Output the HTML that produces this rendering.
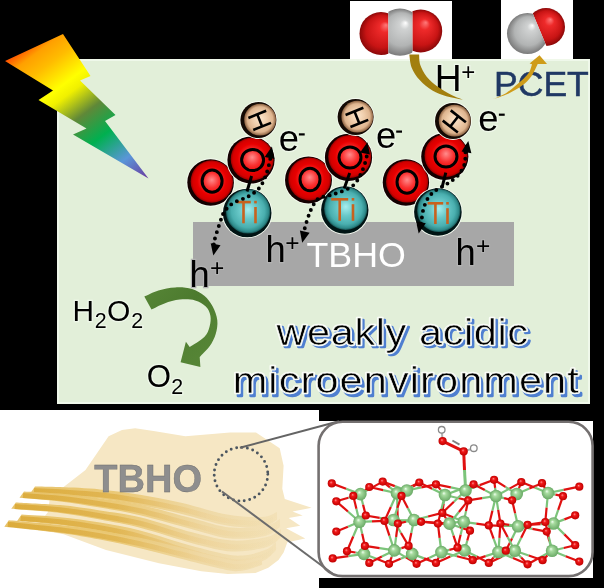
<!DOCTYPE html>
<html><head><meta charset="utf-8">
<style>
html,body{margin:0;padding:0;background:#000;width:604px;height:588px;overflow:hidden;}
svg{display:block;will-change:transform;}
text{font-family:"Liberation Sans",sans-serif;}
</style></head><body>
<svg width="604" height="588" viewBox="0 0 604 588">

<defs>
  <linearGradient id="bolt" gradientUnits="userSpaceOnUse" x1="5" y1="61" x2="112.6" y2="204.5">
    <stop offset="0" stop-color="#ff5000"/>
    <stop offset="0.07" stop-color="#ffa000"/>
    <stop offset="0.16" stop-color="#ffbc00"/>
    <stop offset="0.30" stop-color="#ffff00"/>
    <stop offset="0.36" stop-color="#f0f000"/>
    <stop offset="0.50" stop-color="#608838"/>
    <stop offset="0.66" stop-color="#00b050"/>
    <stop offset="0.84" stop-color="#5a96d8"/>
    <stop offset="1" stop-color="#6a3aa0"/>
  </linearGradient>
  <radialGradient id="gO" cx="0.5" cy="0.5" r="0.5" fx="0.5" fy="0.46">
    <stop offset="0" stop-color="#ff8c8c"/>
    <stop offset="0.35" stop-color="#fa3232"/>
    <stop offset="0.68" stop-color="#e80000"/>
    <stop offset="0.9" stop-color="#d40000"/>
    <stop offset="1" stop-color="#960000"/>
  </radialGradient>
  <radialGradient id="gTi" cx="0.5" cy="0.5" r="0.5" fx="0.5" fy="0.46">
    <stop offset="0" stop-color="#a8eeee"/>
    <stop offset="0.4" stop-color="#68c8c8"/>
    <stop offset="0.75" stop-color="#4aafaf"/>
    <stop offset="0.92" stop-color="#2e8a8a"/>
    <stop offset="1" stop-color="#164e4e"/>
  </radialGradient>
  <radialGradient id="gH" cx="0.5" cy="0.5" r="0.5" fx="0.5" fy="0.46">
    <stop offset="0" stop-color="#fde6cc"/>
    <stop offset="0.45" stop-color="#efcdab"/>
    <stop offset="0.8" stop-color="#deb48e"/>
    <stop offset="1" stop-color="#8a6040"/>
  </radialGradient>
  <radialGradient id="mRed" cx="0.5" cy="0.5" r="0.5" fx="0.62" fy="0.3">
    <stop offset="0" stop-color="#ff7a7a"/>
    <stop offset="0.25" stop-color="#ee2a2a"/>
    <stop offset="0.75" stop-color="#c81414"/>
    <stop offset="1" stop-color="#8a0808"/>
  </radialGradient>
  <radialGradient id="mGray" cx="0.5" cy="0.5" r="0.5" fx="0.62" fy="0.3">
    <stop offset="0" stop-color="#ffffff"/>
    <stop offset="0.2" stop-color="#d0d2d2"/>
    <stop offset="0.7" stop-color="#b2b4b4"/>
    <stop offset="1" stop-color="#7a7a7a"/>
  </radialGradient>
  <radialGradient id="cR" cx="0.5" cy="0.5" r="0.5" fx="0.4" fy="0.35">
    <stop offset="0" stop-color="#ff9090"/>
    <stop offset="0.35" stop-color="#f01818"/>
    <stop offset="1" stop-color="#c00000"/>
  </radialGradient>
  <radialGradient id="cG" cx="0.5" cy="0.5" r="0.5" fx="0.4" fy="0.35">
    <stop offset="0" stop-color="#f0fff0"/>
    <stop offset="0.3" stop-color="#a8dca0"/>
    <stop offset="1" stop-color="#6aaa66"/>
  </radialGradient>
</defs>


<rect width="604" height="588" fill="#000"/>
<rect x="0" y="410" width="319" height="178" fill="#fff"/>
<rect x="319" y="421" width="274" height="157" fill="#fff"/>
<rect x="350" y="1" width="102" height="58" fill="#fff"/>
<rect x="501" y="0" width="72" height="59" fill="#fff"/>
<rect x="57" y="59" width="533" height="345" fill="#e2efd9"/>
<rect x="58" y="60" width="531" height="343" fill="none" stroke="#f3fbee" stroke-width="1.6"/>
<polygon fill="url(#bolt)" points="5,61 63,34 90.5,76 80,80.5 115.5,115 105,121 148.5,178.5 73,134.5 86.5,128.5 38.5,100 53,90.5"/>
<rect x="193" y="222" width="321" height="64" fill="#a7a7a7"/>

<circle cx="210.6" cy="182.5" r="24.2" fill="#f6fcf2"/><circle cx="210.6" cy="182.5" r="23.3" fill="#140000"/><circle cx="211.8" cy="181.5" r="21.2" fill="url(#gO)"/>
<circle cx="251" cy="160" r="24.5" fill="#f6fcf2"/><circle cx="251" cy="160" r="23.6" fill="#140000"/><circle cx="252.2" cy="159.0" r="21.5" fill="url(#gO)"/>
<circle cx="247.2" cy="213" r="25.2" fill="#f6fcf2"/><circle cx="247.2" cy="213" r="24.3" fill="#001414"/><circle cx="248.1" cy="211.4" r="22.2" fill="url(#gTi)"/>
<circle cx="258.4" cy="120" r="18.9" fill="#f6fcf2"/><circle cx="258.4" cy="120" r="18" fill="#140a04"/><circle cx="260.1" cy="119.7" r="15.9" fill="url(#gH)"/>
<g transform="translate(259.7,120.4) rotate(68)" stroke="#000" stroke-width="2.6" stroke-linecap="butt"><line x1="-6.5" y1="-9.6" x2="-6.5" y2="9.6"/><line x1="6.5" y1="-9.6" x2="6.5" y2="9.6"/><line x1="-6.5" y1="0" x2="6.5" y2="0"/></g>
<ellipse cx="212.1" cy="181.1" rx="10" ry="11.2" fill="none" stroke="#000" stroke-width="3"/>
<ellipse cx="252.6" cy="160" rx="11" ry="10.6" fill="none" stroke="#000" stroke-width="3"/>
<g fill="#c8621e"><rect x="236.2" y="200.8" width="14.600000000000023" height="2.6"/><rect x="242.2" y="200.8" width="2.6" height="22.5"/><rect x="254.2" y="200.8" width="2.6" height="2.6"/><rect x="254.2" y="207.0" width="2.6" height="16.3"/></g>
<line x1="251.6" y1="176" x2="247" y2="191.5" stroke="#000" stroke-width="3"/>
<path d="M271.1,152.6 C271.0,153.7 271.1,155.1 270.3,158.7 C269.5,162.3 268.1,169.4 266.3,174.2 C264.5,179.0 262.6,183.8 259.7,187.5 C256.8,191.2 253.0,193.7 248.6,196.3 C244.2,198.9 237.2,200.4 233.2,203.0 C229.1,205.6 226.5,208.5 224.3,211.8 C222.1,215.1 221.6,218.1 219.9,222.9 C218.2,227.7 215.4,236.6 214.4,240.5 C213.4,244.4 214.0,245.5 214.0,246.5" fill="none" stroke="#000" stroke-width="3.9" stroke-linecap="round" stroke-dasharray="0 6.4"/>
<polygon fill="#000" points="271.9,146.6 274.5,158.9 264.7,156.9"/>
<polygon fill="#000" points="213.3,255.5 210.7,243.2 220.5,245.2"/>
<circle cx="308.5" cy="180" r="24.4" fill="#f6fcf2"/><circle cx="308.5" cy="180" r="23.5" fill="#140000"/><circle cx="309.7" cy="179.0" r="21.4" fill="url(#gO)"/>
<circle cx="348.5" cy="157.4" r="24.5" fill="#f6fcf2"/><circle cx="348.5" cy="157.4" r="23.6" fill="#140000"/><circle cx="349.7" cy="156.4" r="21.5" fill="url(#gO)"/>
<circle cx="344.8" cy="210" r="24.6" fill="#f6fcf2"/><circle cx="344.8" cy="210" r="23.7" fill="#001414"/><circle cx="345.7" cy="208.4" r="21.6" fill="url(#gTi)"/>
<circle cx="355.6" cy="117" r="18.9" fill="#f6fcf2"/><circle cx="355.6" cy="117" r="18" fill="#140a04"/><circle cx="357.3" cy="116.7" r="15.9" fill="url(#gH)"/>
<g transform="translate(356.90000000000003,117.4) rotate(68)" stroke="#000" stroke-width="2.6" stroke-linecap="butt"><line x1="-6.5" y1="-9.6" x2="-6.5" y2="9.6"/><line x1="6.5" y1="-9.6" x2="6.5" y2="9.6"/><line x1="-6.5" y1="0" x2="6.5" y2="0"/></g>
<ellipse cx="310" cy="179.5" rx="10" ry="11.2" fill="none" stroke="#000" stroke-width="3"/>
<ellipse cx="350" cy="157.5" rx="11" ry="10.6" fill="none" stroke="#000" stroke-width="3"/>
<g fill="#c8621e"><rect x="331.2" y="198" width="17.0" height="2.6"/><rect x="338.4" y="198" width="2.6" height="22.80000000000001"/><rect x="351.7" y="198" width="2.6" height="2.6"/><rect x="351.7" y="204.2" width="2.6" height="16.6"/></g>
<line x1="349.7" y1="173.1" x2="344.2" y2="188.6" stroke="#000" stroke-width="3"/>
<path d="M366.9,150.4 C366.8,151.8 367.3,154.7 366.3,158.7 C365.3,162.7 363.1,169.6 360.7,174.2 C358.3,178.8 356.3,183.1 351.9,186.4 C347.5,189.7 339.7,192.1 334.2,194.1 C328.7,196.1 322.4,196.3 318.7,198.5 C315.0,200.7 313.9,204.1 312.1,207.4 C310.3,210.7 309.2,214.0 307.7,218.4 C306.2,222.8 304.1,230.7 303.3,233.9 C302.5,237.1 302.9,236.9 302.9,237.5" fill="none" stroke="#000" stroke-width="3.9" stroke-linecap="round" stroke-dasharray="0 6.4"/>
<polygon fill="#000" points="367.4,142.2 369.9,154.5 360.1,152.4"/>
<polygon fill="#000" points="302.2,242.8 299.9,230.5 309.6,232.7"/>
<circle cx="405.9" cy="182.5" r="24.1" fill="#f6fcf2"/><circle cx="405.9" cy="182.5" r="23.2" fill="#140000"/><circle cx="407.1" cy="181.5" r="21.1" fill="url(#gO)"/>
<circle cx="444.8" cy="156.5" r="24.5" fill="#f6fcf2"/><circle cx="444.8" cy="156.5" r="23.6" fill="#140000"/><circle cx="446.0" cy="155.5" r="21.5" fill="url(#gO)"/>
<circle cx="437.9" cy="212" r="24.7" fill="#f6fcf2"/><circle cx="437.9" cy="212" r="23.8" fill="#001414"/><circle cx="438.8" cy="210.4" r="21.7" fill="url(#gTi)"/>
<circle cx="453" cy="121" r="18.9" fill="#f6fcf2"/><circle cx="453" cy="121" r="18" fill="#140a04"/><circle cx="454.7" cy="120.7" r="15.9" fill="url(#gH)"/>
<g transform="translate(454.3,121.4) rotate(-52)" stroke="#000" stroke-width="2.6" stroke-linecap="butt"><line x1="-6.5" y1="-9.6" x2="-6.5" y2="9.6"/><line x1="6.5" y1="-9.6" x2="6.5" y2="9.6"/><line x1="-6.5" y1="0" x2="6.5" y2="0"/></g>
<ellipse cx="407" cy="182" rx="10" ry="11.2" fill="none" stroke="#000" stroke-width="3"/>
<ellipse cx="446" cy="156.5" rx="11" ry="10.6" fill="none" stroke="#000" stroke-width="3"/>
<g fill="#c8621e"><rect x="427.6" y="202" width="15.599999999999966" height="2.6"/><rect x="434.1" y="202" width="2.6" height="22"/><rect x="446.2" y="202" width="2.6" height="2.6"/><rect x="446.2" y="208.2" width="2.6" height="15.8"/></g>
<line x1="445.8" y1="172.7" x2="442" y2="187.7" stroke="#000" stroke-width="3"/>
<path d="M466.9,146.1 C466.7,146.9 465.9,148.2 465.5,151.2 C465.1,154.2 465.8,160.2 464.5,164.3 C463.2,168.4 460.9,172.2 458.0,175.5 C455.1,178.8 450.6,181.5 446.8,184.0 C443.1,186.5 438.6,188.2 435.5,190.5 C432.4,192.8 430.0,194.9 428.0,198.0 C426.0,201.1 424.5,205.5 423.4,209.2 C422.3,212.9 422.0,217.7 421.5,220.4 C421.0,223.1 420.6,224.8 420.4,225.6" fill="none" stroke="#000" stroke-width="3.9" stroke-linecap="round" stroke-dasharray="0 6.4"/>
<polygon fill="#000" points="468.3,141.0 471.4,153.2 461.5,151.5"/>
<polygon fill="#000" points="418.7,233.5 416.0,221.3 425.8,223.2"/>
<text x="278.66" y="150.73" font-size="36.3" fill="#000" stroke="#eef7e9" stroke-width="2.6" style="paint-order:stroke fill">e</text>
<rect x="298.9" y="133.3" width="5.8" height="2.2" fill="#000"/>
<text x="375.96" y="148.13" font-size="36.3" fill="#000" stroke="#eef7e9" stroke-width="2.6" style="paint-order:stroke fill">e</text>
<rect x="396.2" y="130.5" width="5.8" height="2.2" fill="#000"/>
<text x="478.26" y="131.13" font-size="36.3" fill="#000" stroke="#eef7e9" stroke-width="2.6" style="paint-order:stroke fill">e</text>
<rect x="498.9" y="113.6" width="5.8" height="2.2" fill="#000"/>
<text x="189.48" y="286.60" font-size="36.3" fill="#000" stroke="#b2b2b2" stroke-width="2.4" style="paint-order:stroke fill">h</text>
<text x="209.90" y="275.74" font-size="24.5" fill="#000" stroke="#b2b2b2" stroke-width="2" style="paint-order:stroke fill">+</text>
<text x="265.38" y="261.80" font-size="36.3" fill="#000" stroke="#b2b2b2" stroke-width="2.4" style="paint-order:stroke fill">h</text>
<text x="285.30" y="250.84" font-size="24.5" fill="#000" stroke="#b2b2b2" stroke-width="2" style="paint-order:stroke fill">+</text>
<text x="455.38" y="264.90" font-size="36.3" fill="#000" stroke="#b2b2b2" stroke-width="2.4" style="paint-order:stroke fill">h</text>
<text x="476.10" y="253.64" font-size="24.5" fill="#000" stroke="#b2b2b2" stroke-width="2" style="paint-order:stroke fill">+</text>
<text x="306.50" y="267.00" font-size="35.8" fill="#fff" >TBHO</text>
<text x="434.85" y="90.59" font-size="37.2" fill="#000" stroke="#eef7e9" stroke-width="2.6" style="paint-order:stroke fill">H</text>
<text x="461.13" y="79.75" font-size="24" fill="#000" stroke="#eef7e9" stroke-width="2.6" style="paint-order:stroke fill">+</text>
<path d="M409.3,54.6 C409.7,56.7 409.9,63.2 411.6,67.4 C413.3,71.7 416.2,76.2 419.7,80.1 C423.2,84.0 428.0,87.9 432.4,90.6 C436.8,93.3 441.2,94.8 446.3,96.3 C451.4,97.8 460.4,99.2 463.2,99.8 L463.2,99.8 C461.4,99.0 456.3,97.3 452.1,95.2 C447.9,93.1 442.4,90.2 438.2,87.1 C434.0,84.0 429.7,80.4 426.7,76.7 C423.7,73.0 421.6,68.7 420.3,65.0 C419.0,61.3 419.3,56.3 419.1,54.6 Z" fill="#a27f0e"/>
<text x="493.98" y="96.36" font-size="35.6" fill="#203864" stroke="#203864" stroke-width="0.5">PCET</text>
<path d="M492.0,99.5 C494.7,98.5 503.2,96.0 508.2,93.7 C513.2,91.4 518.2,88.5 522.1,85.6 C526.0,82.7 528.8,79.9 531.4,76.3 C534.0,72.7 536.7,66.1 537.7,64.1 L547,64.1 L539.5,55.2 L529.6,63.5 L532.0,64.3 C531.5,65.7 530.8,69.7 529.0,72.5 C527.2,75.3 524.7,77.7 521.0,81.0 C517.3,84.3 511.8,89.3 507.0,92.4 C502.2,95.5 494.5,98.3 492.0,99.5 Z" fill="#cf9c1a"/>
<linearGradient id="gArrow" gradientUnits="userSpaceOnUse" x1="150" y1="285" x2="215" y2="350"><stop offset="0" stop-color="#568536"/><stop offset="0.45" stop-color="#4c7a2e"/><stop offset="0.75" stop-color="#538234"/><stop offset="1" stop-color="#568536"/></linearGradient>
<path d="M144.3,296.5 C146.7,295.5 153.2,291.9 158.4,290.4 C163.6,288.9 169.6,287.6 175.2,287.4 C180.8,287.1 187.2,287.5 192.0,288.9 C196.8,290.3 200.9,292.9 204.3,295.8 C207.8,298.7 210.5,302.4 212.7,306.5 C214.9,310.6 216.8,315.7 217.3,320.3 C217.8,324.9 217.0,329.7 215.7,334.0 C214.4,338.3 212.3,342.5 209.6,346.3 C206.9,350.1 201.3,355.2 199.7,357.0 L200.4,366.9 L180.6,362.3 L185.9,341.7 L189.7,347.0 C192.1,345.4 201.0,340.5 204.3,337.1 C207.6,333.7 208.6,330.0 209.6,326.4 C210.6,322.8 211.0,319.0 210.4,315.7 C209.8,312.4 208.4,309.1 205.8,306.5 C203.2,303.9 199.4,301.5 195.1,300.4 C190.8,299.2 184.9,299.1 179.8,299.6 C174.7,300.1 169.2,301.8 164.5,303.4 C159.8,305.0 153.7,308.5 151.5,309.5 Z" fill="url(#gArrow)"/>
<text x="72.56" y="320.80" font-size="29.8" fill="#000" stroke="#eef7e9" stroke-width="2.6" style="paint-order:stroke fill">H</text>
<text x="94.72" y="327.84" font-size="21.4" fill="#000" stroke="#eef7e9" stroke-width="2.6" style="paint-order:stroke fill">2</text>
<text x="106.98" y="320.85" font-size="30" fill="#000" stroke="#eef7e9" stroke-width="2.6" style="paint-order:stroke fill">O</text>
<text x="131.22" y="327.84" font-size="21.4" fill="#000" stroke="#eef7e9" stroke-width="2.6" style="paint-order:stroke fill">2</text>
<text x="146.82" y="386.79" font-size="31.2" fill="#000" stroke="#eef7e9" stroke-width="2.6" style="paint-order:stroke fill">O</text>
<text x="171.22" y="393.54" font-size="21.4" fill="#000" stroke="#eef7e9" stroke-width="2.6" style="paint-order:stroke fill">2</text>
<g transform="translate(276.56,344.81) scale(1.12,1)"><text x="2.2" y="2.6" font-size="37" letter-spacing="0.55" fill="#4f7fd0" stroke="#4f7fd0" stroke-width="2.6" stroke-linejoin="round">weakly acidic</text><text x="0" y="0" font-size="37" letter-spacing="0.55" fill="#fff" stroke="#fbfdf9" stroke-width="2.6" stroke-linejoin="round">weakly acidic</text><text x="0" y="0" font-size="37" letter-spacing="0.55" fill="#000" stroke="#f4f8f0" stroke-width="0.6">weakly acidic</text></g>
<g transform="translate(232.75,393.11) scale(1.12,1)"><text x="2.2" y="2.6" font-size="37" letter-spacing="1.0" fill="#4f7fd0" stroke="#4f7fd0" stroke-width="2.6" stroke-linejoin="round">microenvironment</text><text x="0" y="0" font-size="37" letter-spacing="1.0" fill="#fff" stroke="#fbfdf9" stroke-width="2.6" stroke-linejoin="round">microenvironment</text><text x="0" y="0" font-size="37" letter-spacing="1.0" fill="#000" stroke="#f4f8f0" stroke-width="0.6">microenvironment</text></g>
<clipPath id="cpL"><rect x="340" y="0" width="48.4" height="60"/></clipPath>
<clipPath id="cpC"><rect x="388.4" y="0" width="24" height="60"/></clipPath>
<clipPath id="cpR"><rect x="412.4" y="0" width="40" height="60"/></clipPath>
<circle cx="381" cy="33.5" r="21.5" fill="url(#mRed)" clip-path="url(#cpL)"/>
<circle cx="420.7" cy="31" r="21.5" fill="url(#mRed)" clip-path="url(#cpR)"/>
<circle cx="400" cy="32.2" r="23.6" fill="url(#mGray)" clip-path="url(#cpC)"/>
<clipPath id="coO"><polygon points="532.4,12.6 546.3,45.7 580,60 580,0 525,0"/></clipPath>
<clipPath id="coC"><polygon points="532.4,12.6 546.3,45.7 560,60 500,60 500,0 525,0"/></clipPath>
<circle cx="546" cy="27" r="19" fill="url(#mRed)" clip-path="url(#coO)"/>
<circle cx="527.5" cy="33.5" r="20.5" fill="url(#mGray)" clip-path="url(#coC)"/>
<polygon points="31.8,487.9 61,489 85.5,470 108.6,436.2 122,430 135.1,428.2 153.6,430.9 185.4,436.2 230,432.5 256,432.4 279.7,448.3 283.6,465.7 282.3,488.7 284.8,498.9 311.6,507.8 292.5,511.6 302.7,515.5 288.7,518 300.2,525.7 286.1,528.2 305.3,538.4 287.4,542.2 283.6,552.4 278.5,560.1 268.3,567.8 255.5,572.9 227.8,574 201.3,571.3 159,563.3 106,550.1 63.6,534.2 35,529 48,512 50,497 61,489" fill="#f6e7c4"/>
<linearGradient id="band" gradientUnits="userSpaceOnUse" x1="0" y1="0" x2="290" y2="0"><stop offset="0" stop-color="#e6c064"/><stop offset="0.4" stop-color="#e9c772"/><stop offset="0.7" stop-color="#efd8a4"/><stop offset="1" stop-color="#f3e2ba"/></linearGradient>
<linearGradient id="bandD" gradientUnits="userSpaceOnUse" x1="0" y1="0" x2="290" y2="0"><stop offset="0" stop-color="#d8a42c"/><stop offset="0.4" stop-color="#dcac40" stop-opacity="0.8"/><stop offset="0.7" stop-color="#e6c070" stop-opacity="0.25"/><stop offset="1" stop-color="#eed49a" stop-opacity="0"/></linearGradient>
<filter id="soft" x="-5%" y="-20%" width="110%" height="140%"><feGaussianBlur stdDeviation="0.7"/></filter>
<g filter="url(#soft)">
<path d="M35.0,486.5 C39.2,486.6 49.2,486.6 60.0,487.1 C70.8,487.6 86.7,488.1 100.0,489.4 C113.3,490.7 126.7,492.5 140.0,494.7 C153.3,496.9 165.5,499.3 180.0,502.6 C194.5,505.9 213.3,512.2 227.0,514.6 C240.7,517.0 253.7,517.4 262.0,517.0 C270.3,516.5 274.5,512.8 277.0,511.9 L277.0,520.1 C274.5,521.2 270.3,526.1 262.0,527.0 C253.7,527.9 240.7,527.7 227.0,525.4 C213.3,523.1 194.5,516.8 180.0,513.4 C165.5,510.0 153.3,507.7 140.0,505.3 C126.7,502.8 113.3,500.3 100.0,498.6 C86.7,496.9 71.6,495.8 60.0,494.9 C48.4,493.9 35.4,493.2 30.5,492.9 Z" fill="url(#band)" opacity="0.95"/>
<path d="M34.0,490.5 C38.3,490.7 49.0,491.1 60.0,491.8 C71.0,492.5 86.7,493.3 100.0,494.8 C113.3,496.3 126.7,498.5 140.0,500.8 C153.3,503.1 165.5,505.5 180.0,508.8 C194.5,512.1 213.3,518.5 227.0,520.8 C240.7,523.1 253.7,523.5 262.0,522.8 C270.3,522.1 274.5,517.8 277.0,516.8" fill="none" stroke="url(#bandD)" stroke-width="5" opacity="0.8"/>
<path d="M24.0,491.4 C30.0,491.8 47.3,492.4 60.0,493.6 C72.7,494.8 86.7,496.6 100.0,498.4 C113.3,500.3 124.5,501.4 140.0,504.7 C155.5,508.1 178.0,514.8 193.0,518.6 C208.0,522.4 218.0,526.4 230.0,527.6 C242.0,528.8 256.7,527.4 265.0,526.0 C273.3,524.5 277.5,520.1 280.0,518.9 L280.0,527.1 C277.5,528.6 273.3,534.1 265.0,536.0 C256.7,537.9 242.0,539.5 230.0,538.4 C218.0,537.3 208.0,533.3 193.0,529.4 C178.0,525.5 155.5,518.9 140.0,515.3 C124.5,511.6 113.3,509.9 100.0,507.6 C86.7,505.3 73.4,503.0 60.0,501.4 C46.6,499.8 26.2,498.4 19.5,497.8 Z" fill="url(#band)" opacity="0.95"/>
<path d="M23.0,495.4 C29.2,495.9 47.2,496.9 60.0,498.3 C72.8,499.7 86.7,501.7 100.0,503.8 C113.3,505.9 124.5,507.3 140.0,510.8 C155.5,514.3 178.0,521.0 193.0,524.8 C208.0,528.6 218.0,532.6 230.0,533.8 C242.0,535.0 256.7,533.5 265.0,531.8 C273.3,530.1 277.5,525.1 280.0,523.8" fill="none" stroke="url(#bandD)" stroke-width="5" opacity="0.8"/>
<path d="M15.8,502.4 C23.2,502.9 46.0,503.8 60.0,505.1 C74.0,506.4 86.7,508.4 100.0,510.4 C113.3,512.4 124.5,513.5 140.0,517.2 C155.5,520.9 177.7,528.7 193.0,532.6 C208.3,536.5 219.7,539.9 232.0,540.6 C244.3,541.3 258.8,538.9 267.0,537.0 C275.2,535.0 278.7,530.3 281.0,528.9 L281.0,537.1 C278.7,538.7 275.2,544.6 267.0,547.0 C258.8,549.4 244.3,552.0 232.0,551.4 C219.7,550.8 208.3,547.3 193.0,543.4 C177.7,539.5 155.5,531.7 140.0,527.8 C124.5,523.8 113.3,522.1 100.0,519.6 C86.7,517.1 74.8,514.7 60.0,512.9 C45.2,511.1 19.4,509.5 11.3,508.8 Z" fill="url(#band)" opacity="0.95"/>
<path d="M14.8,506.4 C22.3,507.0 45.8,508.2 60.0,509.8 C74.2,511.4 86.7,513.5 100.0,515.8 C113.3,518.0 124.5,519.5 140.0,523.3 C155.5,527.1 177.7,534.9 193.0,538.8 C208.3,542.7 219.7,546.1 232.0,546.8 C244.3,547.5 258.8,545.0 267.0,542.8 C275.2,540.6 278.7,535.3 281.0,533.8" fill="none" stroke="url(#bandD)" stroke-width="5" opacity="0.8"/>
<path d="M21.6,514.5 C28.0,514.9 46.9,515.8 60.0,517.2 C73.1,518.5 86.7,520.4 100.0,522.6 C113.3,524.8 126.7,527.1 140.0,530.5 C153.3,533.8 166.7,538.8 180.0,542.6 C193.3,546.4 209.7,550.9 220.0,553.1 C230.3,555.3 234.5,556.1 242.0,555.6 C249.5,555.1 259.3,552.4 265.0,550.1 C270.7,547.8 274.2,543.3 276.0,541.9 L276.0,550.1 C274.2,551.7 270.7,557.2 265.0,559.9 C259.3,562.6 249.5,565.7 242.0,566.4 C234.5,567.1 230.3,566.1 220.0,563.9 C209.7,561.7 193.3,557.3 180.0,553.4 C166.7,549.5 153.3,544.2 140.0,540.5 C126.7,536.9 113.3,534.0 100.0,531.4 C86.7,528.8 73.8,526.6 60.0,524.8 C46.2,523.1 24.2,521.6 17.1,520.9 Z" fill="url(#band)" opacity="0.95"/>
<path d="M20.6,518.5 C27.2,519.0 46.8,520.2 60.0,521.8 C73.2,523.3 86.7,525.4 100.0,527.8 C113.3,530.2 126.7,532.8 140.0,536.3 C153.3,539.8 166.7,545.0 180.0,548.8 C193.3,552.6 209.7,557.1 220.0,559.3 C230.3,561.5 234.5,562.4 242.0,561.8 C249.5,561.2 259.3,558.3 265.0,555.8 C270.7,553.3 274.2,548.3 276.0,546.8" fill="none" stroke="url(#bandD)" stroke-width="5" opacity="0.8"/>
<path d="M8.8,520.3 C17.3,521.1 44.8,523.4 60.0,525.1 C75.2,526.8 86.7,528.3 100.0,530.4 C113.3,532.5 126.7,534.9 140.0,537.7 C153.3,540.6 166.7,544.3 180.0,547.6 C193.3,550.9 210.0,555.4 220.0,557.6 C230.0,559.8 233.0,561.1 240.0,561.0 C247.0,560.9 258.3,557.6 262.0,556.9 L262.0,565.1 C258.3,566.1 247.0,570.5 240.0,571.0 C233.0,571.6 230.0,570.5 220.0,568.4 C210.0,566.3 193.3,561.8 180.0,558.4 C166.7,555.0 153.3,551.4 140.0,548.3 C126.7,545.1 113.3,542.1 100.0,539.6 C86.7,537.0 76.0,535.0 60.0,532.9 C44.0,530.7 13.6,527.7 4.3,526.7 Z" fill="url(#band)" opacity="0.95"/>
<path d="M7.8,524.3 C16.5,525.2 44.6,527.9 60.0,529.8 C75.4,531.7 86.7,533.5 100.0,535.8 C113.3,538.1 126.7,540.8 140.0,543.8 C153.3,546.8 166.7,550.5 180.0,553.8 C193.3,557.1 210.0,561.6 220.0,563.8 C230.0,566.0 233.0,567.1 240.0,566.8 C247.0,566.5 258.3,562.6 262.0,561.8" fill="none" stroke="url(#bandD)" stroke-width="5" opacity="0.8"/>
</g>
<text x="94.37" y="491.93" font-size="38.0" font-weight="bold" fill="#8e8e8e" stroke="#6a6a6a" stroke-width="0.4">TBHO</text>
<circle cx="241" cy="474.2" r="26.8" fill="none" stroke="#4c5660" stroke-width="2.9" stroke-linecap="round" stroke-dasharray="0 5.5"/>
<line x1="239.9" y1="447.8" x2="339" y2="421.3" stroke="#646464" stroke-width="2.1"/>
<line x1="222" y1="491.5" x2="333" y2="574" stroke="#6c6c6c" stroke-width="2"/>
<rect x="318.6" y="421.8" width="274" height="154.3" rx="24" ry="24" fill="none" stroke="#747070" stroke-width="2.6"/>
<g stroke-width="2.2"><line x1="360.4" y1="494.1" x2="346.1" y2="488.8" stroke="#7cc47a"/><line x1="346.1" y1="488.8" x2="331.8" y2="483.4" stroke="#e01010"/><line x1="360.4" y1="494.1" x2="348.4" y2="497.7" stroke="#7cc47a"/><line x1="348.4" y1="497.7" x2="336.3" y2="501.3" stroke="#e01010"/><line x1="360.4" y1="494.1" x2="356.9" y2="495.0" stroke="#7cc47a"/><line x1="356.9" y1="495.0" x2="353.3" y2="495.9" stroke="#e01010"/><line x1="360.4" y1="494.1" x2="364.9" y2="490.6" stroke="#7cc47a"/><line x1="364.9" y1="490.6" x2="369.3" y2="487" stroke="#e01010"/><line x1="360.4" y1="494.1" x2="371.5" y2="487.9" stroke="#7cc47a"/><line x1="371.5" y1="487.9" x2="382.7" y2="481.6" stroke="#e01010"/><line x1="360.4" y1="494.1" x2="363.1" y2="504.8" stroke="#7cc47a"/><line x1="363.1" y1="504.8" x2="365.8" y2="515.5" stroke="#e01010"/><line x1="359.5" y1="521.8" x2="347.9" y2="511.5" stroke="#7cc47a"/><line x1="347.9" y1="511.5" x2="336.3" y2="501.3" stroke="#e01010"/><line x1="359.5" y1="521.8" x2="356.4" y2="508.8" stroke="#7cc47a"/><line x1="356.4" y1="508.8" x2="353.3" y2="495.9" stroke="#e01010"/><line x1="359.5" y1="521.8" x2="362.6" y2="518.6" stroke="#7cc47a"/><line x1="362.6" y1="518.6" x2="365.8" y2="515.5" stroke="#e01010"/><line x1="359.5" y1="521.8" x2="372.0" y2="521.3" stroke="#7cc47a"/><line x1="372.0" y1="521.3" x2="384.5" y2="520.9" stroke="#e01010"/><line x1="359.5" y1="521.8" x2="347.9" y2="526.7" stroke="#7cc47a"/><line x1="347.9" y1="526.7" x2="336.3" y2="531.6" stroke="#e01010"/><line x1="359.5" y1="521.8" x2="362.2" y2="533.8" stroke="#7cc47a"/><line x1="362.2" y1="533.8" x2="364.9" y2="545.9" stroke="#e01010"/><line x1="359.5" y1="521.8" x2="353.2" y2="536.5" stroke="#7cc47a"/><line x1="353.2" y1="536.5" x2="347" y2="551.2" stroke="#e01010"/><line x1="364" y1="553.9" x2="364.4" y2="549.9" stroke="#7cc47a"/><line x1="364.4" y1="549.9" x2="364.9" y2="545.9" stroke="#e01010"/><line x1="364" y1="553.9" x2="355.5" y2="552.5" stroke="#7cc47a"/><line x1="355.5" y1="552.5" x2="347" y2="551.2" stroke="#e01010"/><line x1="364" y1="553.9" x2="348.4" y2="556.1" stroke="#7cc47a"/><line x1="348.4" y1="556.1" x2="332.7" y2="558.4" stroke="#e01010"/><line x1="364" y1="553.9" x2="366.6" y2="558.4" stroke="#7cc47a"/><line x1="366.6" y1="558.4" x2="369.3" y2="562.9" stroke="#e01010"/><line x1="364" y1="553.9" x2="376.5" y2="558.8" stroke="#7cc47a"/><line x1="376.5" y1="558.8" x2="389" y2="563.8" stroke="#e01010"/><line x1="397" y1="493.2" x2="383.1" y2="490.1" stroke="#7cc47a"/><line x1="383.1" y1="490.1" x2="369.3" y2="487" stroke="#e01010"/><line x1="397" y1="493.2" x2="389.9" y2="487.4" stroke="#7cc47a"/><line x1="389.9" y1="487.4" x2="382.7" y2="481.6" stroke="#e01010"/><line x1="397" y1="493.2" x2="390.8" y2="507.0" stroke="#7cc47a"/><line x1="390.8" y1="507.0" x2="384.5" y2="520.9" stroke="#e01010"/><line x1="397" y1="493.2" x2="397.4" y2="508.4" stroke="#7cc47a"/><line x1="397.4" y1="508.4" x2="397.9" y2="523.6" stroke="#e01010"/><line x1="397" y1="493.2" x2="399.2" y2="494.5" stroke="#7cc47a"/><line x1="399.2" y1="494.5" x2="401.5" y2="495.9" stroke="#e01010"/><line x1="397" y1="493.2" x2="408.1" y2="487.9" stroke="#7cc47a"/><line x1="408.1" y1="487.9" x2="419.3" y2="482.5" stroke="#e01010"/><line x1="406.8" y1="490.5" x2="394.8" y2="486.1" stroke="#7cc47a"/><line x1="394.8" y1="486.1" x2="382.7" y2="481.6" stroke="#e01010"/><line x1="406.8" y1="490.5" x2="404.1" y2="493.2" stroke="#7cc47a"/><line x1="404.1" y1="493.2" x2="401.5" y2="495.9" stroke="#e01010"/><line x1="406.8" y1="490.5" x2="413.1" y2="486.5" stroke="#7cc47a"/><line x1="413.1" y1="486.5" x2="419.3" y2="482.5" stroke="#e01010"/><line x1="406.8" y1="490.5" x2="421.4" y2="487.4" stroke="#7cc47a"/><line x1="421.4" y1="487.4" x2="436" y2="484.3" stroke="#e01010"/><line x1="393.4" y1="520" x2="379.6" y2="517.8" stroke="#7cc47a"/><line x1="379.6" y1="517.8" x2="365.8" y2="515.5" stroke="#e01010"/><line x1="393.4" y1="520" x2="388.9" y2="520.5" stroke="#7cc47a"/><line x1="388.9" y1="520.5" x2="384.5" y2="520.9" stroke="#e01010"/><line x1="393.4" y1="520" x2="395.6" y2="521.8" stroke="#7cc47a"/><line x1="395.6" y1="521.8" x2="397.9" y2="523.6" stroke="#e01010"/><line x1="393.4" y1="520" x2="397.4" y2="507.9" stroke="#7cc47a"/><line x1="397.4" y1="507.9" x2="401.5" y2="495.9" stroke="#e01010"/><line x1="393.4" y1="520" x2="401.0" y2="533.0" stroke="#7cc47a"/><line x1="401.0" y1="533.0" x2="408.6" y2="545.9" stroke="#e01010"/><line x1="393.4" y1="520" x2="407.2" y2="520.9" stroke="#7cc47a"/><line x1="407.2" y1="520.9" x2="421.1" y2="521.8" stroke="#e01010"/><line x1="414" y1="520" x2="399.2" y2="520.5" stroke="#7cc47a"/><line x1="399.2" y1="520.5" x2="384.5" y2="520.9" stroke="#e01010"/><line x1="414" y1="520" x2="405.9" y2="521.8" stroke="#7cc47a"/><line x1="405.9" y1="521.8" x2="397.9" y2="523.6" stroke="#e01010"/><line x1="414" y1="520" x2="407.8" y2="507.9" stroke="#7cc47a"/><line x1="407.8" y1="507.9" x2="401.5" y2="495.9" stroke="#e01010"/><line x1="414" y1="520" x2="411.3" y2="533.0" stroke="#7cc47a"/><line x1="411.3" y1="533.0" x2="408.6" y2="545.9" stroke="#e01010"/><line x1="414" y1="520" x2="417.6" y2="520.9" stroke="#7cc47a"/><line x1="417.6" y1="520.9" x2="421.1" y2="521.8" stroke="#e01010"/><line x1="414" y1="520" x2="428.1" y2="516.5" stroke="#7cc47a"/><line x1="428.1" y1="516.5" x2="442.3" y2="512.9" stroke="#e01010"/><line x1="414" y1="520" x2="425.9" y2="521.8" stroke="#7cc47a"/><line x1="425.9" y1="521.8" x2="437.9" y2="523.6" stroke="#e01010"/><line x1="394.3" y1="550.4" x2="389.4" y2="535.6" stroke="#7cc47a"/><line x1="389.4" y1="535.6" x2="384.5" y2="520.9" stroke="#e01010"/><line x1="394.3" y1="550.4" x2="396.1" y2="537.0" stroke="#7cc47a"/><line x1="396.1" y1="537.0" x2="397.9" y2="523.6" stroke="#e01010"/><line x1="394.3" y1="550.4" x2="379.6" y2="548.1" stroke="#7cc47a"/><line x1="379.6" y1="548.1" x2="364.9" y2="545.9" stroke="#e01010"/><line x1="394.3" y1="550.4" x2="381.8" y2="556.6" stroke="#7cc47a"/><line x1="381.8" y1="556.6" x2="369.3" y2="562.9" stroke="#e01010"/><line x1="394.3" y1="550.4" x2="391.6" y2="557.1" stroke="#7cc47a"/><line x1="391.6" y1="557.1" x2="389" y2="563.8" stroke="#e01010"/><line x1="394.3" y1="550.4" x2="401.5" y2="548.1" stroke="#7cc47a"/><line x1="401.5" y1="548.1" x2="408.6" y2="545.9" stroke="#e01010"/><line x1="394.3" y1="550.4" x2="405.5" y2="557.1" stroke="#7cc47a"/><line x1="405.5" y1="557.1" x2="416.6" y2="563.8" stroke="#e01010"/><line x1="412.2" y1="553.9" x2="400.6" y2="558.8" stroke="#7cc47a"/><line x1="400.6" y1="558.8" x2="389" y2="563.8" stroke="#e01010"/><line x1="412.2" y1="553.9" x2="410.4" y2="549.9" stroke="#7cc47a"/><line x1="410.4" y1="549.9" x2="408.6" y2="545.9" stroke="#e01010"/><line x1="412.2" y1="553.9" x2="414.4" y2="558.8" stroke="#7cc47a"/><line x1="414.4" y1="558.8" x2="416.6" y2="563.8" stroke="#e01010"/><line x1="412.2" y1="553.9" x2="424.1" y2="558.4" stroke="#7cc47a"/><line x1="424.1" y1="558.4" x2="436" y2="562.9" stroke="#e01010"/><line x1="445" y1="495" x2="432.1" y2="488.8" stroke="#7cc47a"/><line x1="432.1" y1="488.8" x2="419.3" y2="482.5" stroke="#e01010"/><line x1="445" y1="495" x2="440.5" y2="489.6" stroke="#7cc47a"/><line x1="440.5" y1="489.6" x2="436" y2="484.3" stroke="#e01010"/><line x1="445" y1="495" x2="459.3" y2="489.6" stroke="#7cc47a"/><line x1="459.3" y1="489.6" x2="473.6" y2="484.3" stroke="#e01010"/><line x1="445" y1="495" x2="456.6" y2="497.7" stroke="#7cc47a"/><line x1="456.6" y1="497.7" x2="468.2" y2="500.4" stroke="#e01010"/><line x1="445" y1="495" x2="443.6" y2="503.9" stroke="#7cc47a"/><line x1="443.6" y1="503.9" x2="442.3" y2="512.9" stroke="#e01010"/><line x1="445" y1="495" x2="441.4" y2="509.3" stroke="#7cc47a"/><line x1="441.4" y1="509.3" x2="437.9" y2="523.6" stroke="#e01010"/><line x1="465.5" y1="490.5" x2="450.8" y2="487.4" stroke="#7cc47a"/><line x1="450.8" y1="487.4" x2="436" y2="484.3" stroke="#e01010"/><line x1="465.5" y1="490.5" x2="469.6" y2="487.4" stroke="#7cc47a"/><line x1="469.6" y1="487.4" x2="473.6" y2="484.3" stroke="#e01010"/><line x1="465.5" y1="490.5" x2="479.8" y2="485.1" stroke="#7cc47a"/><line x1="479.8" y1="485.1" x2="494.1" y2="479.8" stroke="#e01010"/><line x1="465.5" y1="490.5" x2="466.9" y2="495.4" stroke="#7cc47a"/><line x1="466.9" y1="495.4" x2="468.2" y2="500.4" stroke="#e01010"/><line x1="465.5" y1="490.5" x2="453.9" y2="501.7" stroke="#7cc47a"/><line x1="453.9" y1="501.7" x2="442.3" y2="512.9" stroke="#e01010"/><line x1="449.5" y1="523.6" x2="435.3" y2="522.7" stroke="#7cc47a"/><line x1="435.3" y1="522.7" x2="421.1" y2="521.8" stroke="#e01010"/><line x1="449.5" y1="523.6" x2="458.9" y2="512.0" stroke="#7cc47a"/><line x1="458.9" y1="512.0" x2="468.2" y2="500.4" stroke="#e01010"/><line x1="449.5" y1="523.6" x2="445.9" y2="518.2" stroke="#7cc47a"/><line x1="445.9" y1="518.2" x2="442.3" y2="512.9" stroke="#e01010"/><line x1="449.5" y1="523.6" x2="443.7" y2="523.6" stroke="#7cc47a"/><line x1="443.7" y1="523.6" x2="437.9" y2="523.6" stroke="#e01010"/><line x1="449.5" y1="523.6" x2="459.8" y2="527.2" stroke="#7cc47a"/><line x1="459.8" y1="527.2" x2="470" y2="530.7" stroke="#e01010"/><line x1="449.5" y1="523.6" x2="453.5" y2="535.7" stroke="#7cc47a"/><line x1="453.5" y1="535.7" x2="457.5" y2="547.7" stroke="#e01010"/><line x1="463.8" y1="521.8" x2="466.0" y2="511.1" stroke="#7cc47a"/><line x1="466.0" y1="511.1" x2="468.2" y2="500.4" stroke="#e01010"/><line x1="463.8" y1="521.8" x2="453.1" y2="517.3" stroke="#7cc47a"/><line x1="453.1" y1="517.3" x2="442.3" y2="512.9" stroke="#e01010"/><line x1="463.8" y1="521.8" x2="450.9" y2="522.7" stroke="#7cc47a"/><line x1="450.9" y1="522.7" x2="437.9" y2="523.6" stroke="#e01010"/><line x1="463.8" y1="521.8" x2="466.9" y2="526.2" stroke="#7cc47a"/><line x1="466.9" y1="526.2" x2="470" y2="530.7" stroke="#e01010"/><line x1="463.8" y1="521.8" x2="476.3" y2="523.6" stroke="#7cc47a"/><line x1="476.3" y1="523.6" x2="488.8" y2="525.4" stroke="#e01010"/><line x1="463.8" y1="521.8" x2="460.6" y2="534.8" stroke="#7cc47a"/><line x1="460.6" y1="534.8" x2="457.5" y2="547.7" stroke="#e01010"/><line x1="441.4" y1="552.1" x2="429.0" y2="558.0" stroke="#7cc47a"/><line x1="429.0" y1="558.0" x2="416.6" y2="563.8" stroke="#e01010"/><line x1="441.4" y1="552.1" x2="439.6" y2="537.9" stroke="#7cc47a"/><line x1="439.6" y1="537.9" x2="437.9" y2="523.6" stroke="#e01010"/><line x1="441.4" y1="552.1" x2="449.4" y2="549.9" stroke="#7cc47a"/><line x1="449.4" y1="549.9" x2="457.5" y2="547.7" stroke="#e01010"/><line x1="441.4" y1="552.1" x2="438.7" y2="557.5" stroke="#7cc47a"/><line x1="438.7" y1="557.5" x2="436" y2="562.9" stroke="#e01010"/><line x1="441.4" y1="552.1" x2="457.0" y2="556.2" stroke="#7cc47a"/><line x1="457.0" y1="556.2" x2="472.7" y2="560.2" stroke="#e01010"/><line x1="464.6" y1="550.4" x2="467.3" y2="540.5" stroke="#7cc47a"/><line x1="467.3" y1="540.5" x2="470" y2="530.7" stroke="#e01010"/><line x1="464.6" y1="550.4" x2="461.1" y2="549.0" stroke="#7cc47a"/><line x1="461.1" y1="549.0" x2="457.5" y2="547.7" stroke="#e01010"/><line x1="464.6" y1="550.4" x2="450.3" y2="556.6" stroke="#7cc47a"/><line x1="450.3" y1="556.6" x2="436" y2="562.9" stroke="#e01010"/><line x1="464.6" y1="550.4" x2="468.6" y2="555.3" stroke="#7cc47a"/><line x1="468.6" y1="555.3" x2="472.7" y2="560.2" stroke="#e01010"/><line x1="464.6" y1="550.4" x2="476.7" y2="556.6" stroke="#7cc47a"/><line x1="476.7" y1="556.6" x2="488.8" y2="562.9" stroke="#e01010"/><line x1="496" y1="496" x2="484.8" y2="490.1" stroke="#7cc47a"/><line x1="484.8" y1="490.1" x2="473.6" y2="484.3" stroke="#e01010"/><line x1="496" y1="496" x2="495.1" y2="487.9" stroke="#7cc47a"/><line x1="495.1" y1="487.9" x2="494.1" y2="479.8" stroke="#e01010"/><line x1="496" y1="496" x2="482.1" y2="498.2" stroke="#7cc47a"/><line x1="482.1" y1="498.2" x2="468.2" y2="500.4" stroke="#e01010"/><line x1="496" y1="496" x2="492.4" y2="510.7" stroke="#7cc47a"/><line x1="492.4" y1="510.7" x2="488.8" y2="525.4" stroke="#e01010"/><line x1="496" y1="496" x2="508.6" y2="489.1" stroke="#7cc47a"/><line x1="508.6" y1="489.1" x2="521.3" y2="482.1" stroke="#e01010"/><line x1="496" y1="496" x2="504.1" y2="498.1" stroke="#7cc47a"/><line x1="504.1" y1="498.1" x2="512.1" y2="500.3" stroke="#e01010"/><line x1="496" y1="496" x2="498.2" y2="509.8" stroke="#7cc47a"/><line x1="498.2" y1="509.8" x2="500.4" y2="523.5" stroke="#e01010"/><line x1="516.7" y1="494" x2="505.4" y2="486.9" stroke="#7cc47a"/><line x1="505.4" y1="486.9" x2="494.1" y2="479.8" stroke="#e01010"/><line x1="516.7" y1="494" x2="519.0" y2="488.1" stroke="#7cc47a"/><line x1="519.0" y1="488.1" x2="521.3" y2="482.1" stroke="#e01010"/><line x1="516.7" y1="494" x2="529.4" y2="488.6" stroke="#7cc47a"/><line x1="529.4" y1="488.6" x2="542" y2="483.2" stroke="#e01010"/><line x1="516.7" y1="494" x2="514.4" y2="497.1" stroke="#7cc47a"/><line x1="514.4" y1="497.1" x2="512.1" y2="500.3" stroke="#e01010"/><line x1="548" y1="493" x2="534.6" y2="487.6" stroke="#7cc47a"/><line x1="534.6" y1="487.6" x2="521.3" y2="482.1" stroke="#e01010"/><line x1="548" y1="493" x2="545.0" y2="488.1" stroke="#7cc47a"/><line x1="545.0" y1="488.1" x2="542" y2="483.2" stroke="#e01010"/><line x1="548" y1="493" x2="563.6" y2="489.9" stroke="#7cc47a"/><line x1="563.6" y1="489.9" x2="579.3" y2="486.7" stroke="#e01010"/><line x1="548" y1="493" x2="555.5" y2="494.6" stroke="#7cc47a"/><line x1="555.5" y1="494.6" x2="563" y2="496.2" stroke="#e01010"/><line x1="548" y1="493" x2="546.6" y2="507.6" stroke="#7cc47a"/><line x1="546.6" y1="507.6" x2="545.3" y2="522.1" stroke="#e01010"/><line x1="518.1" y1="526.2" x2="503.5" y2="525.8" stroke="#7cc47a"/><line x1="503.5" y1="525.8" x2="488.8" y2="525.4" stroke="#e01010"/><line x1="518.1" y1="526.2" x2="515.1" y2="513.2" stroke="#7cc47a"/><line x1="515.1" y1="513.2" x2="512.1" y2="500.3" stroke="#e01010"/><line x1="518.1" y1="526.2" x2="509.2" y2="524.9" stroke="#7cc47a"/><line x1="509.2" y1="524.9" x2="500.4" y2="523.5" stroke="#e01010"/><line x1="518.1" y1="526.2" x2="522.9" y2="525.5" stroke="#7cc47a"/><line x1="522.9" y1="525.5" x2="527.6" y2="524.8" stroke="#e01010"/><line x1="518.1" y1="526.2" x2="532.4" y2="528.9" stroke="#7cc47a"/><line x1="532.4" y1="528.9" x2="546.7" y2="531.6" stroke="#e01010"/><line x1="518.1" y1="526.2" x2="531.7" y2="524.2" stroke="#7cc47a"/><line x1="531.7" y1="524.2" x2="545.3" y2="522.1" stroke="#e01010"/><line x1="518.1" y1="526.2" x2="512.0" y2="538.5" stroke="#7cc47a"/><line x1="512.0" y1="538.5" x2="505.8" y2="550.7" stroke="#e01010"/><line x1="553.5" y1="523.5" x2="558.2" y2="509.9" stroke="#7cc47a"/><line x1="558.2" y1="509.9" x2="563" y2="496.2" stroke="#e01010"/><line x1="553.5" y1="523.5" x2="540.5" y2="524.1" stroke="#7cc47a"/><line x1="540.5" y1="524.1" x2="527.6" y2="524.8" stroke="#e01010"/><line x1="553.5" y1="523.5" x2="550.1" y2="527.5" stroke="#7cc47a"/><line x1="550.1" y1="527.5" x2="546.7" y2="531.6" stroke="#e01010"/><line x1="553.5" y1="523.5" x2="549.4" y2="522.8" stroke="#7cc47a"/><line x1="549.4" y1="522.8" x2="545.3" y2="522.1" stroke="#e01010"/><line x1="553.5" y1="523.5" x2="564.4" y2="519.4" stroke="#7cc47a"/><line x1="564.4" y1="519.4" x2="575.2" y2="515.3" stroke="#e01010"/><line x1="553.5" y1="523.5" x2="564.4" y2="534.4" stroke="#7cc47a"/><line x1="564.4" y1="534.4" x2="575.2" y2="545.2" stroke="#e01010"/><line x1="498.5" y1="552" x2="493.6" y2="538.7" stroke="#7cc47a"/><line x1="493.6" y1="538.7" x2="488.8" y2="525.4" stroke="#e01010"/><line x1="498.5" y1="552" x2="485.6" y2="556.1" stroke="#7cc47a"/><line x1="485.6" y1="556.1" x2="472.7" y2="560.2" stroke="#e01010"/><line x1="498.5" y1="552" x2="493.6" y2="557.5" stroke="#7cc47a"/><line x1="493.6" y1="557.5" x2="488.8" y2="562.9" stroke="#e01010"/><line x1="498.5" y1="552" x2="499.4" y2="537.8" stroke="#7cc47a"/><line x1="499.4" y1="537.8" x2="500.4" y2="523.5" stroke="#e01010"/><line x1="498.5" y1="552" x2="502.1" y2="551.4" stroke="#7cc47a"/><line x1="502.1" y1="551.4" x2="505.8" y2="550.7" stroke="#e01010"/><line x1="498.5" y1="552" x2="513.0" y2="558.1" stroke="#7cc47a"/><line x1="513.0" y1="558.1" x2="527.6" y2="564.3" stroke="#e01010"/><line x1="514.8" y1="550.7" x2="501.8" y2="556.8" stroke="#7cc47a"/><line x1="501.8" y1="556.8" x2="488.8" y2="562.9" stroke="#e01010"/><line x1="514.8" y1="550.7" x2="507.6" y2="537.1" stroke="#7cc47a"/><line x1="507.6" y1="537.1" x2="500.4" y2="523.5" stroke="#e01010"/><line x1="514.8" y1="550.7" x2="521.2" y2="537.8" stroke="#7cc47a"/><line x1="521.2" y1="537.8" x2="527.6" y2="524.8" stroke="#e01010"/><line x1="514.8" y1="550.7" x2="510.3" y2="550.7" stroke="#7cc47a"/><line x1="510.3" y1="550.7" x2="505.8" y2="550.7" stroke="#e01010"/><line x1="514.8" y1="550.7" x2="521.2" y2="557.5" stroke="#7cc47a"/><line x1="521.2" y1="557.5" x2="527.6" y2="564.3" stroke="#e01010"/><line x1="514.8" y1="550.7" x2="528.7" y2="555.5" stroke="#7cc47a"/><line x1="528.7" y1="555.5" x2="542.6" y2="560.2" stroke="#e01010"/><line x1="552.1" y1="550.7" x2="549.4" y2="541.2" stroke="#7cc47a"/><line x1="549.4" y1="541.2" x2="546.7" y2="531.6" stroke="#e01010"/><line x1="552.1" y1="550.7" x2="548.7" y2="536.4" stroke="#7cc47a"/><line x1="548.7" y1="536.4" x2="545.3" y2="522.1" stroke="#e01010"/><line x1="552.1" y1="550.7" x2="563.7" y2="548.0" stroke="#7cc47a"/><line x1="563.7" y1="548.0" x2="575.2" y2="545.2" stroke="#e01010"/><line x1="552.1" y1="550.7" x2="539.9" y2="557.5" stroke="#7cc47a"/><line x1="539.9" y1="557.5" x2="527.6" y2="564.3" stroke="#e01010"/><line x1="552.1" y1="550.7" x2="547.4" y2="555.5" stroke="#7cc47a"/><line x1="547.4" y1="555.5" x2="542.6" y2="560.2" stroke="#e01010"/><line x1="552.1" y1="550.7" x2="565.7" y2="556.2" stroke="#7cc47a"/><line x1="565.7" y1="556.2" x2="579.3" y2="561.6" stroke="#e01010"/></g>
<line x1="465.5" y1="488" x2="464.5" y2="470" stroke="#7cc47a" stroke-width="3"/>
<line x1="464.5" y1="470" x2="463.7" y2="451.4" stroke="#e01010" stroke-width="3"/>
<line x1="442.6" y1="441.1" x2="463.7" y2="451.4" stroke="#e01010" stroke-width="3"/>
<line x1="452.4" y1="440.5" x2="459.5" y2="444.6" stroke="#808080" stroke-width="2"/>
<line x1="441.7" y1="429.8" x2="442.6" y2="441.1" stroke="#b0b0b0" stroke-width="2"/>
<line x1="473.8" y1="448.2" x2="463.7" y2="451.4" stroke="#b0b0b0" stroke-width="2"/>
<circle cx="441.7" cy="429.8" r="3.3" fill="#fff" stroke="#8a8a8a" stroke-width="1.3"/>
<circle cx="473.8" cy="448.2" r="3.3" fill="#fff" stroke="#8a8a8a" stroke-width="1.3"/>
<circle cx="442.6" cy="441.1" r="4.1" fill="url(#cR)"/>
<circle cx="463.7" cy="451.4" r="4.1" fill="url(#cR)"/>
<circle cx="360.4" cy="494.1" r="6.3" fill="url(#cG)"/>
<circle cx="359.5" cy="521.8" r="6.3" fill="url(#cG)"/>
<circle cx="364" cy="553.9" r="6.3" fill="url(#cG)"/>
<circle cx="397" cy="493.2" r="6.3" fill="url(#cG)"/>
<circle cx="406.8" cy="490.5" r="6.3" fill="url(#cG)"/>
<circle cx="393.4" cy="520" r="6.3" fill="url(#cG)"/>
<circle cx="414" cy="520" r="6.3" fill="url(#cG)"/>
<circle cx="394.3" cy="550.4" r="6.3" fill="url(#cG)"/>
<circle cx="412.2" cy="553.9" r="6.3" fill="url(#cG)"/>
<circle cx="445" cy="495" r="6.3" fill="url(#cG)"/>
<circle cx="465.5" cy="490.5" r="6.3" fill="url(#cG)"/>
<circle cx="449.5" cy="523.6" r="6.3" fill="url(#cG)"/>
<circle cx="463.8" cy="521.8" r="6.3" fill="url(#cG)"/>
<circle cx="441.4" cy="552.1" r="6.3" fill="url(#cG)"/>
<circle cx="464.6" cy="550.4" r="6.3" fill="url(#cG)"/>
<circle cx="496" cy="496" r="6.3" fill="url(#cG)"/>
<circle cx="516.7" cy="494" r="6.3" fill="url(#cG)"/>
<circle cx="548" cy="493" r="6.3" fill="url(#cG)"/>
<circle cx="518.1" cy="526.2" r="6.3" fill="url(#cG)"/>
<circle cx="553.5" cy="523.5" r="6.3" fill="url(#cG)"/>
<circle cx="498.5" cy="552" r="6.3" fill="url(#cG)"/>
<circle cx="514.8" cy="550.7" r="6.3" fill="url(#cG)"/>
<circle cx="552.1" cy="550.7" r="6.3" fill="url(#cG)"/>
<circle cx="331.8" cy="483.4" r="4.1" fill="url(#cR)"/>
<circle cx="336.3" cy="501.3" r="4.1" fill="url(#cR)"/>
<circle cx="353.3" cy="495.9" r="4.1" fill="url(#cR)"/>
<circle cx="369.3" cy="487" r="4.1" fill="url(#cR)"/>
<circle cx="382.7" cy="481.6" r="4.1" fill="url(#cR)"/>
<circle cx="365.8" cy="515.5" r="4.1" fill="url(#cR)"/>
<circle cx="384.5" cy="520.9" r="4.1" fill="url(#cR)"/>
<circle cx="336.3" cy="531.6" r="4.1" fill="url(#cR)"/>
<circle cx="397.9" cy="523.6" r="4.1" fill="url(#cR)"/>
<circle cx="401.5" cy="495.9" r="4.1" fill="url(#cR)"/>
<circle cx="419.3" cy="482.5" r="4.1" fill="url(#cR)"/>
<circle cx="364.9" cy="545.9" r="4.1" fill="url(#cR)"/>
<circle cx="347" cy="551.2" r="4.1" fill="url(#cR)"/>
<circle cx="332.7" cy="558.4" r="4.1" fill="url(#cR)"/>
<circle cx="369.3" cy="562.9" r="4.1" fill="url(#cR)"/>
<circle cx="389" cy="563.8" r="4.1" fill="url(#cR)"/>
<circle cx="408.6" cy="545.9" r="4.1" fill="url(#cR)"/>
<circle cx="416.6" cy="563.8" r="4.1" fill="url(#cR)"/>
<circle cx="421.1" cy="521.8" r="4.1" fill="url(#cR)"/>
<circle cx="436" cy="484.3" r="4.1" fill="url(#cR)"/>
<circle cx="473.6" cy="484.3" r="4.1" fill="url(#cR)"/>
<circle cx="494.1" cy="479.8" r="4.1" fill="url(#cR)"/>
<circle cx="468.2" cy="500.4" r="4.1" fill="url(#cR)"/>
<circle cx="442.3" cy="512.9" r="4.1" fill="url(#cR)"/>
<circle cx="437.9" cy="523.6" r="4.1" fill="url(#cR)"/>
<circle cx="470" cy="530.7" r="4.1" fill="url(#cR)"/>
<circle cx="488.8" cy="525.4" r="4.1" fill="url(#cR)"/>
<circle cx="457.5" cy="547.7" r="4.1" fill="url(#cR)"/>
<circle cx="436" cy="562.9" r="4.1" fill="url(#cR)"/>
<circle cx="472.7" cy="560.2" r="4.1" fill="url(#cR)"/>
<circle cx="488.8" cy="562.9" r="4.1" fill="url(#cR)"/>
<circle cx="521.3" cy="482.1" r="4.1" fill="url(#cR)"/>
<circle cx="542" cy="483.2" r="4.1" fill="url(#cR)"/>
<circle cx="579.3" cy="486.7" r="4.1" fill="url(#cR)"/>
<circle cx="563" cy="496.2" r="4.1" fill="url(#cR)"/>
<circle cx="512.1" cy="500.3" r="4.1" fill="url(#cR)"/>
<circle cx="500.4" cy="523.5" r="4.1" fill="url(#cR)"/>
<circle cx="527.6" cy="524.8" r="4.1" fill="url(#cR)"/>
<circle cx="546.7" cy="531.6" r="4.1" fill="url(#cR)"/>
<circle cx="545.3" cy="522.1" r="4.1" fill="url(#cR)"/>
<circle cx="575.2" cy="515.3" r="4.1" fill="url(#cR)"/>
<circle cx="505.8" cy="550.7" r="4.1" fill="url(#cR)"/>
<circle cx="575.2" cy="545.2" r="4.1" fill="url(#cR)"/>
<circle cx="527.6" cy="564.3" r="4.1" fill="url(#cR)"/>
<circle cx="542.6" cy="560.2" r="4.1" fill="url(#cR)"/>
<circle cx="579.3" cy="561.6" r="4.1" fill="url(#cR)"/>
</svg>
</body></html>
